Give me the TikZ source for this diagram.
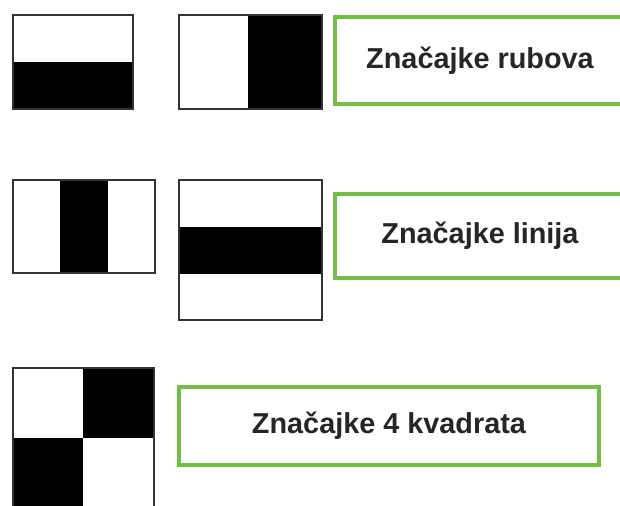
\documentclass[tikz,border=0pt]{standalone}
\usepackage{fontspec}
\setmainfont{Liberation Sans}
\definecolor{featgreen}{RGB}{116,190,72}
\tikzset{
  featbox/.style={draw=featgreen, line width=3pt, fill=white, inner sep=0pt,
    font=\bfseries\fontsize{20.5}{24}\selectfont, text=black!85},
  haar/.style={draw=black!80, line width=1.1pt}
}

\begin{document}
\begin{tikzpicture}[x=0.025cm, y=-0.025cm]
  \useasboundingbox (0,0) rectangle (620,506);
  \clip (0,0) rectangle (620,506);
  % edge features
  \fill (13,62) rectangle (133,109);
  \draw[haar] (13,15) rectangle (133,109);
  \fill (248,15) rectangle (322,109);
  \draw[haar] (179,15) rectangle (322,109);
  \node[featbox, minimum width=7.25cm, minimum height=2.175cm] (rubovi) at (480,60.5) {Značajke rubova};
  % line features
  \fill (60,180) rectangle (108,273);
  \draw[haar] (13,180) rectangle (155,273);
  \fill (179,227) rectangle (322,274);
  \draw[haar] (179,180) rectangle (322,320);
  \node[featbox, minimum width=7.25cm, minimum height=2.1cm] (linije) at (480,236) {Značajke linija};
  % four-square features
  \fill (83,368) rectangle (154,438);
  \fill (13,438) rectangle (83,508);
  \draw[haar] (13,368) rectangle (154,508);
  \node[featbox, minimum width=10.5cm, minimum height=1.95cm] (kvadrati) at (389,426) {Značajke 4 kvadrata};
\end{tikzpicture}
\end{document}
